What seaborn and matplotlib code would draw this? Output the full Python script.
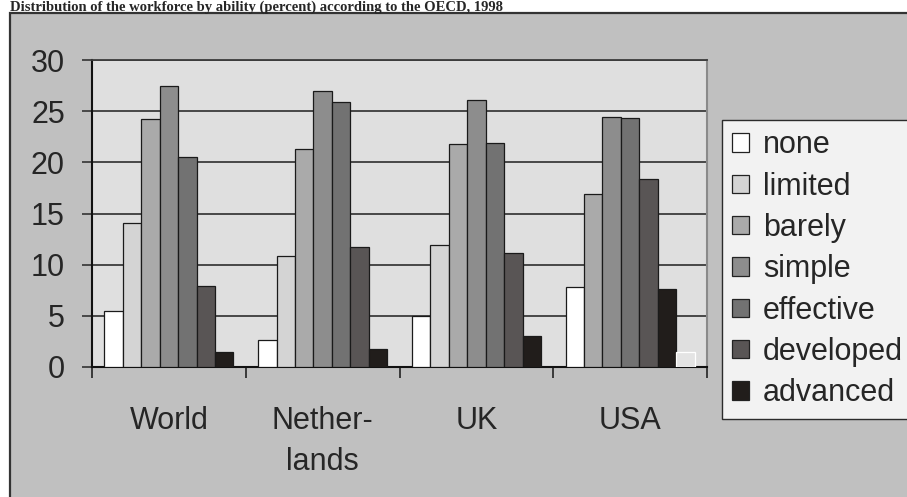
import matplotlib
matplotlib.use("Agg")
import matplotlib.pyplot as plt
import pandas as pd
import seaborn as sns
from matplotlib.patches import Patch, Rectangle

# ---- data ----
countries = ["World", "Nether-\nlands", "UK", "USA"]
levels = ["none", "limited", "barely", "simple", "effective", "developed", "advanced"]
world = [5.5, 14.1, 24.2, 27.5, 20.5, 7.9, 1.5]
netherlands = [2.6, 10.8, 21.3, 27.0, 25.9, 11.7, 1.8]
uk = [5.0, 11.9, 21.8, 26.1, 21.9, 11.1, 3.0]
usa = [7.8, 16.9, 24.4, 24.3, 18.4, 7.6, 1.5]
title = "Distribution of the workforce by ability (percent) according to the OECD, 1998"

level_colors = ["#ffffff", "#d4d4d4", "#aaaaaa", "#8d8d8d", "#727272", "#595555", "#211d1b"]
# the USA group is drawn with its fills shifted by one in the original
usa_colors = ["#ffffff", "#aaaaaa", "#8d8d8d", "#727272", "#595555", "#211d1b", "#e4e4e4"]

rows = []
for c, vals in zip(countries, [world, netherlands, uk, usa]):
    for lev, v in zip(levels, vals):
        rows.append({"country": c, "level": lev, "value": v})
df = pd.DataFrame(rows)

sns.set_style("white")
plt.rcParams["font.family"] = ["Liberation Sans", "DejaVu Sans"]

fig = plt.figure(figsize=(9.07, 4.97), dpi=100)
fig.patch.set_facecolor("white")

# grey outer frame of the chart object
fig.add_artist(Rectangle((10 / 907, -0.02), 1.0, 1 - 13 / 497 + 0.02,
                         transform=fig.transFigure, facecolor="#c0c0c0",
                         edgecolor="#333333", linewidth=1.6, zorder=0))

fig.text(10 / 907, 1 - 11 / 497, title, fontsize=10.5, fontweight="bold",
         family="Liberation Serif", ha="left", va="baseline")

ax = fig.add_axes([92 / 907, 1 - 367 / 497, (707 - 92) / 907, (367 - 60) / 497])
ax.set_facecolor("#dfdfdf")

sns.barplot(data=df, x="country", y="value", hue="level", order=countries,
            hue_order=levels, palette=level_colors, width=0.84, gap=0,
            edgecolor="#1a1a1a", linewidth=0.9, saturation=1, ax=ax,
            legend=False, zorder=3)

for i, cont in enumerate(ax.containers):
    bar = cont.patches[3]
    bar.set_facecolor(usa_colors[i])
    if i == len(levels) - 1:
        bar.set_edgecolor("#ffffff")

ax.set_xlim(-0.5, 3.5)
ax.set_ylim(0, 30)
ax.set_yticks(range(0, 31, 5))
ax.set_xlabel("")
ax.set_ylabel("")

for y in range(5, 31, 5):
    ax.axhline(y, color="#3c3c3c", linewidth=1.3, zorder=1)

ax.set_xticks([-0.5, 0.5, 1.5, 2.5, 3.5], minor=True)
ax.tick_params(axis="x", which="minor", bottom=True, length=8, width=1.2,
               color="#222222", direction="out")
ax.tick_params(axis="x", which="major", bottom=True, length=0, pad=28, labelsize=22)
ax.tick_params(axis="y", left=True, length=7.5, width=1.2, color="#333333",
               direction="out", pad=12, labelsize=22)
for lab in ax.get_xticklabels():
    lab.set_linespacing(1.5)

for side in ["left", "bottom"]:
    ax.spines[side].set_color("#111111")
    ax.spines[side].set_linewidth(1.5)
ax.spines["right"].set_color("#8a8a8a")
ax.spines["right"].set_linewidth(1.5)
ax.spines["top"].set_color("#3c3c3c")
ax.spines["top"].set_linewidth(1.3)

handles = [Patch(facecolor=col, edgecolor="#222222", linewidth=0.9) for col in level_colors]
leg = fig.legend(handles, levels, loc="upper left",
                 bbox_to_anchor=(722 / 907, 1 - 120 / 497),
                 fontsize=22, frameon=True, fancybox=False, shadow=False,
                 handlelength=0.55, handleheight=0.55, handletextpad=0.45,
                 labelspacing=0.37, borderpad=0.34, borderaxespad=0)
leg.get_frame().set_edgecolor("#000000")
leg.get_frame().set_linewidth(1.0)
leg.get_frame().set_facecolor("white")

plt.savefig("out.png", dpi=100)
